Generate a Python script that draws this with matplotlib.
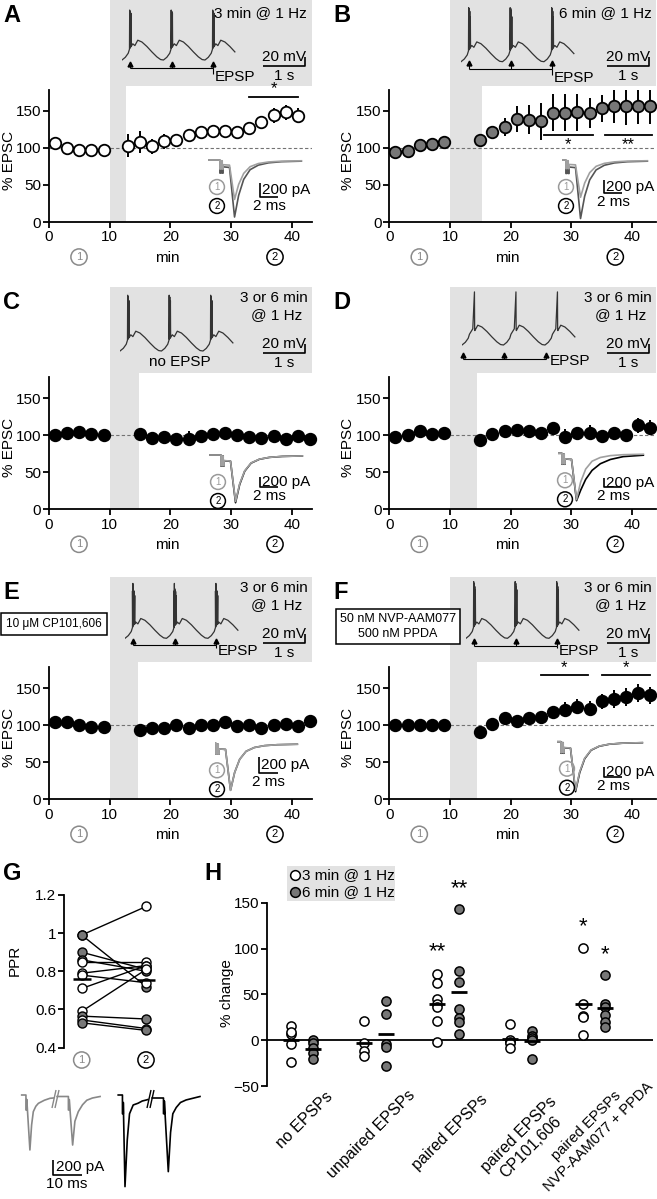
import numpy as np
import matplotlib
matplotlib.use('agg')
import matplotlib.pyplot as plt
from matplotlib.patches import Rectangle

plt.rcParams['font.family'] = ['Liberation Sans', 'DejaVu Sans']
plt.rcParams['font.size'] = 11
plt.rcParams['axes.linewidth'] = 1.3
plt.rcParams['xtick.major.width'] = 1.3
plt.rcParams['ytick.major.width'] = 1.3
plt.rcParams['xtick.major.size'] = 4
plt.rcParams['ytick.major.size'] = 4
plt.rcParams['xtick.major.pad'] = 2
plt.rcParams['ytick.major.pad'] = 1.5

W, H = 657, 1199
SHADE = '#e2e2e2'
GRAYPT = '#777777'

######## values ########
pre_x = [1, 3, 5, 7, 9]
post_x_a = [13, 15, 17, 19, 21, 23, 25, 27, 29, 31, 33, 35, 37, 39, 41]
post_x = [15, 17, 19, 21, 23, 25, 27, 29, 31, 33, 35, 37, 39, 41, 43]

a_pre = [107, 100, 97, 97, 97]
a_post = [103, 108, 102, 109, 110, 117, 121, 123, 123, 121, 127, 135, 144, 148, 143]
a_err = [15, 15, 10, 10, 8, 6, 6, 7, 8, 8, 6, 8, 10, 10, 10]

b_pre = [95, 96, 104, 105, 108]
b_post = [110, 121, 128, 139, 138, 136, 147, 147, 148, 147, 153, 156, 156, 157, 157]
b_err = [8, 3, 12, 18, 20, 25, 25, 25, 25, 20, 18, 22, 25, 25, 25]

c_pre = [100, 103, 104, 102, 100]
c_post = [102, 96, 98, 95, 95, 99, 101, 103, 100, 98, 96, 99, 95, 99, 95]
c_err = [3, 8, 5, 5, 10, 5, 4, 4, 4, 4, 4, 4, 8, 4, 5]

d_pre = [97, 100, 105, 102, 103]
d_post = [94, 102, 106, 107, 105, 103, 110, 98, 103, 103, 99, 103, 100, 113, 110]
d_err = [6, 4, 4, 5, 6, 8, 8, 10, 5, 10, 8, 8, 8, 10, 10]

e_pre = [104, 104, 100, 97, 97]
e_post = [93, 96, 96, 100, 96, 100, 100, 104, 99, 100, 96, 100, 102, 99, 105]
e_err = [6, 3, 3, 3, 3, 3, 4, 4, 3, 3, 3, 3, 3, 3, 3]

f_pre = [100, 100, 100, 100, 100]
f_post = [91, 102, 109, 106, 109, 111, 118, 121, 125, 122, 132, 135, 138, 143, 140]
f_err = [3, 3, 4, 4, 4, 8, 8, 10, 10, 10, 10, 12, 12, 12, 12]

# stimulation period ends (min), start is 10 min
band_end = [12.7, 15.2, 14.9, 14.5, 14.6, 14.5]

# significance bars: (from, to, level, label)
sig_a = [(33, 41, 168, '*')]
sig_b = [(25.5, 33.5, 117, '*'), (35.5, 43.3, 117, '**')]
sig_f = [(25, 32.7, 167, '*'), (35, 43, 167, '*')]

# G: paired-pulse ratio before (1) / after (2)
ppr_1 = [0.99, 0.99, 0.90, 0.86, 0.85, 0.79, 0.78, 0.71, 0.59, 0.565, 0.545, 0.53]
ppr_2 = [1.14, 0.72, 0.81, 0.80, 0.85, 0.83, 0.74, 0.83, 0.81, 0.55, 0.50, 0.49]
ppr_6min = [False, True, True, True, False, False, False, False, False, True, False, True]

# H: % change
h_cats = ['no EPSPs', 'unpaired EPSPs', 'paired EPSPs',
          'paired EPSPs\nCP101,606', 'paired EPSPs\nNVP-AAM077 + PPDA']
h_3min = [[15, 7, 9, -4, -24], [21, -3, -12, -17], [72, 62, 45, 40, 36, 21, -2],
          [18, 0, -2, -3, -9], [101, 40, 26, 25, 6]]
h_6min = [[0, -3, -9, -14, -20], [43, 29, -4, -7, -28], [143, 76, 63, 34, 24, 20, 7],
          [10, 5, 2, 0, -20], [71, 40, 36, 27, 20, 14]]
h_stars = [(2, -1, 97, '**'), (2, 1, 165, '**'), (4, -1, 124, '*'), (4, 1, 93, '*')]

# example traces (keypoints): membrane potential, one 1 s cycle (s, mV above trough)
wave_t = [0.00, 0.08, 0.15, 0.18, 0.26, 0.31, 0.38, 0.48, 0.60, 0.72, 0.84, 0.93, 1.00]
wave_v = [0, 6, 15, 24, 36, 32, 44, 40, 30, 18, 7, 1, 0]
spk_t = [[0.185, 0.19, 0.20, 0.205, 0.215, 0.22],
         [0.185, 0.19, 0.20, 0.205, 0.212, 0.217, 0.225, 0.23],
         [0.185, 0.19, 0.20, 0.205, 0.215, 0.22],
         [0.30, 0.305],
         [0.18, 0.185, 0.19, 0.195, 0.20, 0.205, 0.21, 0.215, 0.22, 0.225, 0.235, 0.24],
         [0.185, 0.19, 0.20, 0.205, 0.212, 0.217, 0.225, 0.23]]
spk_v = [[111, 26, 108, 28, 104, 30],
         [120, 26, 118, 28, 112, 30, 100, 32],
         [124, 26, 120, 28, 112, 30],
         [118, 34],
         [105, 25, 122, 28, 110, 30, 106, 30, 104, 32, 95, 32],
         [126, 26, 122, 28, 115, 30, 108, 32]]

# EPSC keypoints (ms, fraction of peak)
epsc_t = [0.0, 1.3, 1.3, 1.4, 1.4, 1.55, 1.55, 1.65, 1.65, 2.35, 2.9, 3.35, 3.9, 4.6, 5.5, 6.6, 8.0, 10.2]
epsc_n = [0.0, 0.0, -0.23, -0.23, -0.02, -0.02, -0.23, -0.23, -0.12, -0.13, -1.0, -0.62, -0.34, -0.17, -0.09, -0.05, -0.03, -0.02]
epsc_slow_n = [0.0, 0.0, -0.23, -0.23, -0.02, -0.02, -0.23, -0.23, -0.12, -0.13, -1.0, -0.78, -0.55, -0.36, -0.22, -0.13, -0.07, -0.04]
epsc_peak1 = [540, 560, 930, 1030, 563, 970]   # pA, time point 1
epsc_peak2 = [781, 880, 954, 1053, 563, 1000]  # pA, time point 2

# G example paired-pulse EPSCs (ms, pA)
g1a_t = [0, 1.5, 1.5, 1.8, 1.8, 2.9, 3.5, 4.1, 5.0, 5.9, 8.0, 10.0, 11.2]
g1a_i = [0, 0, -200, -200, -60, -733, -400, -222, -150, -111, -70, -44, -40]
g1b_t = [12.5, 16.0, 16.5, 16.5, 16.8, 16.8, 18.0, 18.8, 20.0, 21.5, 23.0, 25.0, 27.7]
g1b_i = [-20, -20, -20, -200, -200, -60, -667, -350, -222, -130, -70, -40, -20]
g2a_t = [34.1, 35.6, 35.6, 35.9, 35.9, 36.5, 37.3, 38.1, 39.4, 41.1, 42.6, 44.1, 44.6]
g2a_i = [0, 0, -250, -250, -100, -1222, -600, -250, -133, -110, -80, -66, -60]
g2b_t = [46.1, 49.6, 50.1, 50.1, 50.4, 50.4, 51.8, 52.6, 53.4, 54.6, 56.1, 58.1, 63.0]
g2b_i = [-40, -40, -40, -250, -250, -80, -1022, -500, -250, -167, -100, -66, -20]

######## layout (pixels) ########
fig = plt.figure(figsize=(W / 100, H / 100), dpi=100)


def px_axes(l, t, r, b, **kw):
    return fig.add_axes([l / W, 1 - b / H, (r - l) / W, (b - t) / H], **kw)


ov = fig.add_axes([0, 0, 1, 1], zorder=10)
ov.set_xlim(0, W)
ov.set_ylim(H, 0)
ov.axis('off')
ov.patch.set_alpha(0)


def oline(xs, ys, color='k', lw=1.2):
    ov.plot(xs, ys, color=color, lw=lw, solid_capstyle='butt')


def circ(x, y, s, color, size=8, pad=0.28):
    ov.text(x, y, s, ha='center', va='center', fontsize=size, color=color,
            bbox=dict(boxstyle='circle,pad=%g' % pad, fc='none', ec=color, lw=1.1))


COL_L = [49, 389.3]
ROW_B = [222, 509.3, 799.3]
XMAX = [43.25, 43.9]
RECT = [(0, 85.5), (287, 372.7), (576.7, 661.7)]
RECT_R = [312, 656]
PXMIN = 6.07
PXY = 0.742
YMAX = 178

ts_pre = [a_pre, b_pre, c_pre, d_pre, e_pre, f_pre]
ts_post = [a_post, b_post, c_post, d_post, e_post, f_post]
ts_err = [a_err, b_err, c_err, d_err, e_err, f_err]
ts_postx = [post_x_a, post_x, post_x, post_x, post_x, post_x]
ts_face = ['white', GRAYPT, 'k', 'k', 'k', 'k']
ts_sig = [sig_a, sig_b, [], [], [], sig_f]
letters = ['A', 'B', 'C', 'D', 'E', 'F']

for i in range(6):
    r, c = divmod(i, 2)
    L, B, xm = COL_L[c], ROW_B[r], XMAX[c]
    top = B - YMAX * PXY
    ax = px_axes(L, top, L + xm * PXMIN, B)
    ax.patch.set_alpha(0)
    ax.set_xlim(0, xm)
    ax.set_ylim(0, YMAX)
    gt, gb = RECT[r]
    ax.axvspan(10, band_end[i], ymin=0, ymax=1 + (top - gb) / (B - top),
               color=SHADE, lw=0, zorder=0, clip_on=False)
    bl = L + 10 * PXMIN
    fig.patches.append(Rectangle((bl / W, 1 - gb / H), (RECT_R[c] - bl) / W, (gb - gt) / H,
                                 transform=fig.transFigure, fc=SHADE, ec='none', zorder=-1))
    ax.plot([0, xm], [100, 100], ls=(0, (3, 2)), color='0.45', lw=0.8, zorder=1)
    post = np.array(ts_post[i])
    err = np.array(ts_err[i])
    ax.vlines(ts_postx[i], post - err, post + err, color='k', lw=1.4, zorder=3)
    for xs, ys in [(pre_x, ts_pre[i]), (ts_postx[i], post)]:
        ax.plot(xs, ys, 'o', ms=8.3, mfc=ts_face[i], mec='k', mew=1.3, zorder=4, clip_on=False)
    for x1, x2, lev, lab in ts_sig[i]:
        ax.plot([x1, x2], [lev, lev], color='k', lw=1.3, clip_on=False)
        if i == 1:
            ax.text((x1 + x2) / 2, lev - 3, lab, ha='center', va='top', fontsize=12)
        else:
            ax.text((x1 + x2) / 2, lev + 1, lab, ha='center', va='bottom', fontsize=12)
    for s in ['top', 'right']:
        ax.spines[s].set_visible(False)
    ax.set_xticks([0, 10, 20, 30, 40])
    ax.set_yticks([0, 50, 100, 150])
    ax.tick_params(labelsize=11)

    # labels under / beside the axes
    ov.text(9.5 + 339 * c, (top + B) / 2 + 4, '% EPSC', rotation=90, ha='center', va='center', fontsize=11)
    ybot = B + 35
    ov.text(L + 118, ybot + 1, 'min', ha='center', va='center', fontsize=11)
    circ(L + 30, ybot, '1', '#8a8a8a')
    circ(L + 226, ybot, '2', 'k')
    ov.text(3 + 330 * c, gt + 4, letters[i], fontsize=17, fontweight='bold', ha='left', va='top')

    # stimulation text and scale bars in the shaded box
    gr = RECT_R[c]
    if i == 0:
        ov.text(gr - 5, gt + 13, '3 min @ 1 Hz', ha='right', va='center', fontsize=11)
    elif i == 1:
        ov.text(gr - 4, gt + 13, '6 min @ 1 Hz', ha='right', va='center', fontsize=11)
    else:
        ov.text(gr - 4, gt + 11, '3 or 6 min', ha='right', va='center', fontsize=11)
        ov.text(gr - 10, gt + 28, '@ 1 Hz', ha='right', va='center', fontsize=11)
    oline([gr - 49, gr - 7, gr - 7], [gt + 66, gt + 66, gt + 57])
    ov.text(gr - 28, gt + 64, '20 mV', ha='center', va='bottom', fontsize=11)
    ov.text(gr - 28, gt + 69, '1 s', ha='center', va='top', fontsize=11)

# ---- membrane potential insets ----
TPX = 41.5   # px per s
VPX = 0.45   # px per mV
mem_x0 = [122, 461, 120, 462, 125, 466]
mem_y0 = [60, 61.7, 351, 345, 638.3, 638.3]
arrow_ph = [0.2, 0.2, None, 0.02, 0.2, 0.2]
arrow_off = [2, 0, None, 8, 1, 1]
brack_off = [8, 7, None, 14, 7, 8]
epsp_dy = [9, 9, None, 2, 6, 5]

for i in range(6):
    x0, y0 = mem_x0[i], mem_y0[i]
    axm = px_axes(x0, y0 - 130 * VPX, x0 + 2.8 * TPX, y0 + 4)
    axm.set_xlim(0, 2.8)
    axm.set_ylim(-4 / VPX, 130)
    axm.axis('off')
    axm.patch.set_alpha(0)
    tt = np.array(wave_t + spk_t[i])
    vv = np.array(wave_v + spk_v[i])
    order = np.argsort(tt, kind='stable')
    tt, vv = tt[order], vv[order]
    T = np.concatenate([tt + k for k in range(3)])
    V = np.tile(vv, 3)
    keep = T <= 2.8
    axm.plot(T[keep], V[keep], color='#333333', lw=0.9)

    if arrow_ph[i] is None:
        ov.text(180, y0 + 11, 'no EPSP', ha='center', va='center', fontsize=11)
        continue
    xs = [x0 + (arrow_ph[i] + k) * TPX for k in range(3)]
    tip = y0 + arrow_off[i]
    br = y0 + brack_off[i]
    for x in xs:
        oline([x, x], [tip + 2, br], lw=0.8)
        ov.plot(x, tip + 1.5, marker='^', ms=3.5, color='k')
    oline([xs[0], xs[2]], [br, br], lw=0.8)
    if i == 3:
        ov.text(xs[2] + 4, br + epsp_dy[i], 'EPSP', ha='left', va='center', fontsize=11)
    else:
        oline([xs[2], xs[2]], [br, br + epsp_dy[i] - 3], lw=0.8)
        ov.text(xs[2] + 1.5, br + epsp_dy[i], 'EPSP', ha='left', va='center', fontsize=11)

# ---- EPSC insets ----
MSPX = 9.15
epsc_x0 = [208, 554, 209, 550, 204, 549]
epsc_y0 = [160, 160, 455, 453.3, 743.3, 741.7]
epsc_t0 = [0, 0.9, 0, 0.9, 1.2, 0.9]
s200 = [14.6, 13.3, 10, 9, 16.7, 10]
num_x = [217, 566, 218, 565, 217, 567]
bar_x = [260, 604, 260, 604, 259.3, 604]
bar_top = [22.7, 20, 21.7, 25, 13.4, 25]
tr2_col = ['#555555', '#555555', 'k', 'k', '#333333', 'k']

for i in range(6):
    x0, y0 = epsc_x0[i], epsc_y0[i]
    spa = s200[i] / 200.0
    depth = epsc_peak2[i] * spa
    axe = px_axes(x0 + epsc_t0[i] * MSPX, y0 - 6, x0 + 95, y0 + depth + 4)
    axe.set_xlim(epsc_t0[i], 95 / MSPX)
    axe.set_ylim(-(depth + 4) / spa, 6 / spa)
    axe.axis('off')
    axe.patch.set_alpha(0)
    shape2 = epsc_slow_n if i == 3 else epsc_n
    axe.plot(epsc_t, np.array(shape2) * epsc_peak2[i], color=tr2_col[i], lw=1.2)
    axe.plot(epsc_t, np.array(epsc_n) * epsc_peak1[i], color='#a0a0a0', lw=1.2)
    circ(num_x[i], y0 + 27, '1', '#9a9a9a', size=7, pad=0.25)
    circ(num_x[i], y0 + 46, '2', 'k', size=7, pad=0.25)
    bx, by = bar_x[i], y0 + bar_top[i]
    oline([bx, bx, bx + 18.3], [by, by + s200[i], by + s200[i]])
    ov.text(bx + 2, by + s200[i] / 2, '200 pA', ha='left', va='center', fontsize=11)
    ov.text(bx + 9, by + s200[i] + 9, '2 ms', ha='center', va='center', fontsize=11)

# drug boxes
ov.text(54.3, 624, '10 \u03bcM CP101,606', ha='center', va='center', fontsize=8.5,
        bbox=dict(boxstyle='square,pad=0.45', fc='white', ec='k', lw=1.1))
ov.text(398, 626.5, '50 nM NVP-AAM077\n500 nM PPDA', ha='center', va='center', fontsize=9,
        ma='center', linespacing=1.25,
        bbox=dict(boxstyle='square,pad=0.35', fc='white', ec='k', lw=1.1))

# ---- G ----
axg = px_axes(63.7, 895, 172, 1047.6)
axg.patch.set_alpha(0)
axg.set_xlim(0.72, 2.4)
axg.set_ylim(0.4, 1.2)
for p1, p2 in zip(ppr_1, ppr_2):
    axg.plot([1, 2], [p1, p2], color='k', lw=1.0, zorder=2)
for p1, p2, six in zip(ppr_1, ppr_2, ppr_6min):
    fc = GRAYPT if six else 'white'
    axg.plot([1, 2], [p1, p2], 'o', ls='none', ms=6.5, mfc=fc, mec='k', mew=1.0, zorder=3, clip_on=False)
for xc, vals in [(1, ppr_1), (2, ppr_2)]:
    axg.hlines(np.mean(vals), xc - 0.14, xc + 0.14, color='k', lw=1.8, zorder=4)
for s in ['top', 'right', 'bottom']:
    axg.spines[s].set_visible(False)
axg.set_xticks([])
axg.set_yticks([0.4, 0.6, 0.8, 1.0, 1.2])
axg.set_yticklabels(['0.4', '0.6', '0.8', '1', '1.2'])
axg.tick_params(labelsize=11)
ov.text(15, 960, 'PPR', rotation=90, ha='center', va='center', fontsize=11)
circ(81.7, 1060, '1', '#8a8a8a')
circ(146, 1060, '2', 'k')
ov.text(3, 862, 'G', fontsize=17, fontweight='bold', ha='left', va='top')

axt = px_axes(15, 1088, 210, 1192)
axt.set_xlim(-6.7 / 2.83, 188.3 / 2.83)
axt.set_ylim(-97 / 0.075, 7 / 0.075)
axt.axis('off')
axt.patch.set_alpha(0)
for tt, ii, col in [(g1a_t, g1a_i, '#888888'), (g1b_t, g1b_i, '#888888'),
                    (g2a_t, g2a_i, 'k'), (g2b_t, g2b_i, 'k')]:
    axt.plot(tt, ii, color=col, lw=1.2)
for bx, col in [(52, '#888888'), (147, 'k')]:
    oline([bx, bx + 4], [1108, 1090], color=col, lw=1.0)
    oline([bx + 3, bx + 7], [1108, 1090], color=col, lw=1.0)
oline([53.3, 53.3, 81.7], [1160, 1175, 1175])
ov.text(55.5, 1167.5, '200 pA', ha='left', va='center', fontsize=11)
ov.text(67, 1184, '10 ms', ha='center', va='center', fontsize=11)

# ---- H ----
axh = px_axes(266.7, 902.7, 653, 1086)
axh.patch.set_alpha(0)
axh.set_xlim(-0.48, 4.8)
axh.set_ylim(-50, 150)
axh.axhline(0, color='k', lw=1.3, zorder=1)
lab_dx = [0.315, 0.44, 0.44, 0.37, 0.54]
lab_y = [-53.3, -51, -56.5, -58.7, -31]
lab_fs = [11.5, 11.5, 11.5, 11.5, 10.5]
for g in range(5):
    for off, vals, fc in [(-0.15, h_3min[g], 'white'), (0.15, h_6min[g], GRAYPT)]:
        axh.plot([g + off] * len(vals), vals, 'o', ms=6.6, mfc=fc, mec='k', mew=1.1, zorder=3)
        axh.hlines(np.mean(vals), g + off - 0.11, g + off + 0.11, color='k', lw=2, zorder=4)
    axh.text(g + lab_dx[g], lab_y[g], h_cats[g], rotation=45, ha='right', va='top',
             rotation_mode='anchor', ma='center', fontsize=lab_fs[g], clip_on=False)
for g, side, lev, lab in h_stars:
    axh.text(g + 0.15 * side, lev, lab, ha='center', va='center', fontsize=16, clip_on=False)
for s in ['top', 'right', 'bottom']:
    axh.spines[s].set_visible(False)
axh.set_xticks([])
axh.set_yticks([-50, 0, 50, 100, 150])
axh.tick_params(labelsize=11)
ov.text(226.7, 993, '% change', rotation=90, ha='center', va='center', fontsize=11)
ov.text(204, 862, 'H', fontsize=17, fontweight='bold', ha='left', va='top')
ov.add_patch(Rectangle((287, 866), 108, 34.7, fc=SHADE, ec='none', zorder=0))
ov.plot(295, 875, 'o', ms=7, mfc='white', mec='k', mew=1.1)
ov.plot(295, 892.3, 'o', ms=7, mfc=GRAYPT, mec='k', mew=1.1)
ov.text(302, 875, '3 min @ 1 Hz', ha='left', va='center', fontsize=11)
ov.text(302, 892.3, '6 min @ 1 Hz', ha='left', va='center', fontsize=11)

fig.savefig('out.png', dpi=100)
